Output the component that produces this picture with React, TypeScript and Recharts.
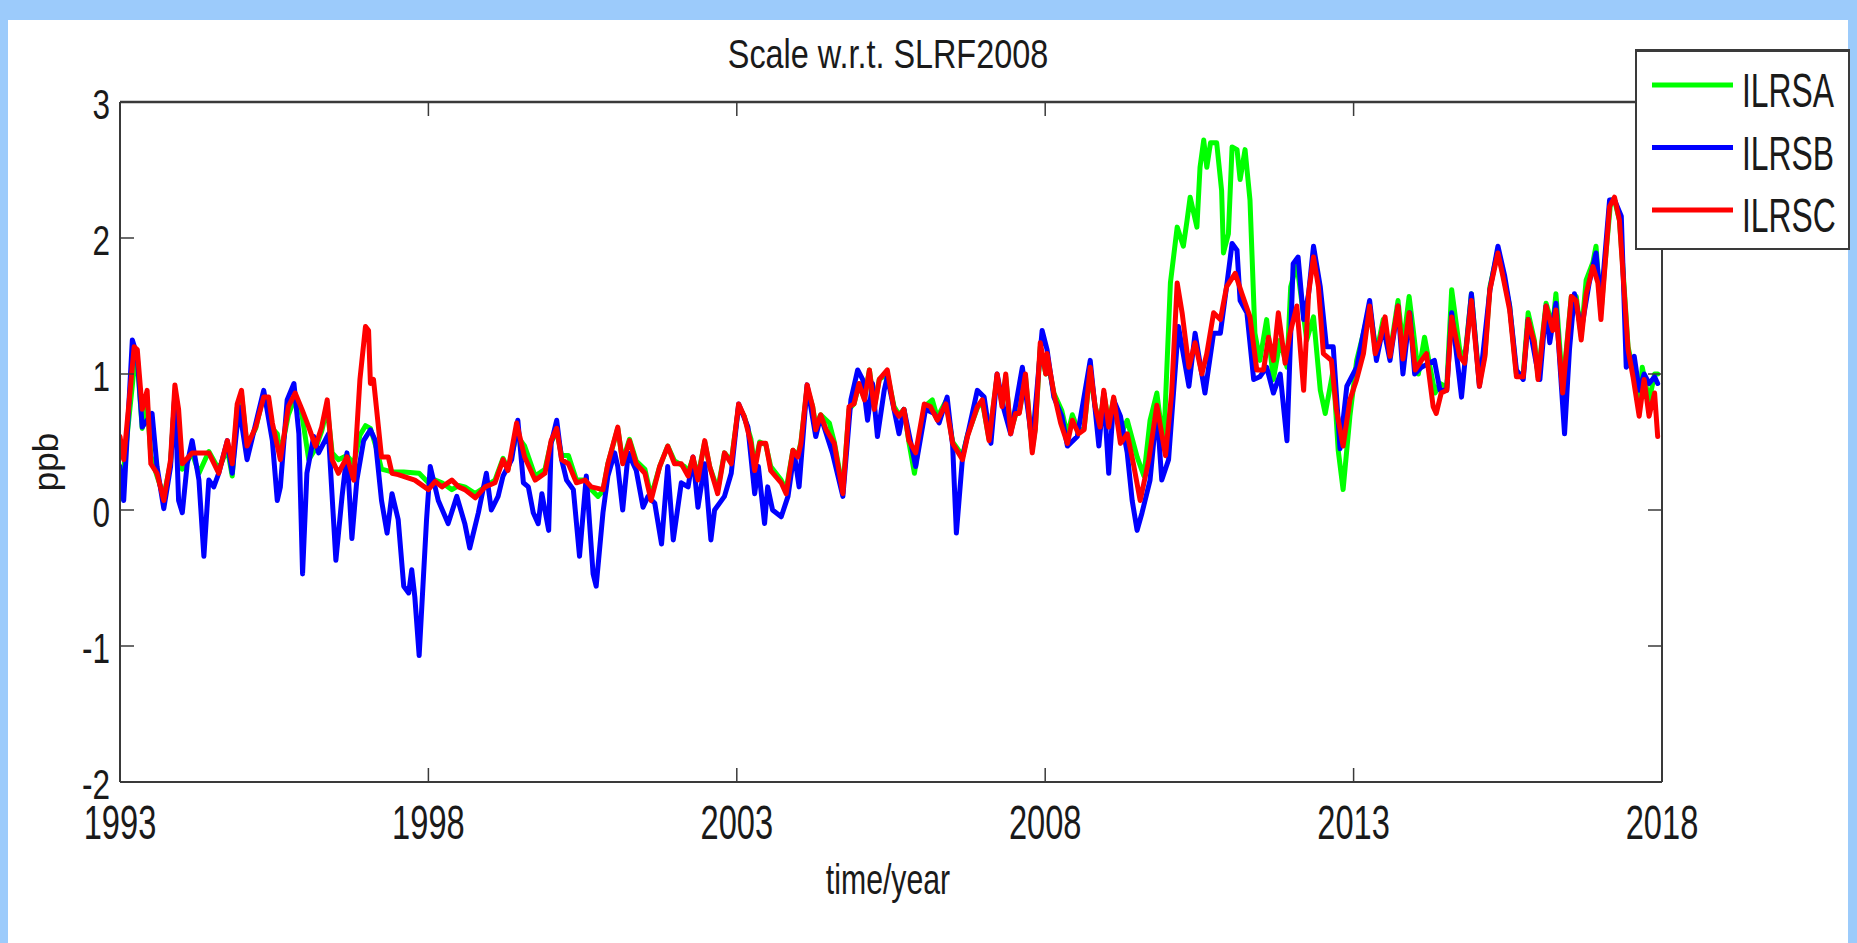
import React from "react";
import { LineChart, Line, XAxis, YAxis, Legend, Label } from "recharts";

// tick values
const yearTicks = [1993, 1998, 2003, 2008, 2013, 2018];
const ppbTicks = [-2, -1, 0, 1, 2, 3];

// [decimal year, scale in ppb]
const ilrsaPoints: [number, number][] = [
  [1993.0, 0.08], [1993.06, 0.3], [1993.23, 1.05], [1993.28, 1.1], [1993.36, 0.6], [1993.44, 0.8], [1993.5, 0.4], [1993.6, 0.25],
  [1993.71, 0.1], [1993.82, 0.35], [1993.89, 0.85], [1993.95, 0.6], [1994.01, 0.3], [1994.17, 0.42], [1994.28, 0.27], [1994.44, 0.43],
  [1994.6, 0.3], [1994.74, 0.45], [1994.82, 0.25], [1994.9, 0.75], [1994.97, 0.85], [1995.06, 0.47], [1995.2, 0.6], [1995.33, 0.85],
  [1995.41, 0.8], [1995.47, 0.6], [1995.55, 0.56], [1995.6, 0.4], [1995.73, 0.7], [1995.84, 0.83], [1995.95, 0.7], [1996.06, 0.37],
  [1996.17, 0.45], [1996.27, 0.58], [1996.36, 0.75], [1996.44, 0.42], [1996.54, 0.37], [1996.68, 0.4], [1996.79, 0.34], [1996.89, 0.55],
  [1996.98, 0.62], [1997.06, 0.6], [1997.16, 0.45], [1997.24, 0.3], [1997.41, 0.28], [1997.6, 0.28], [1997.85, 0.27], [1998.0, 0.2],
  [1998.11, 0.22], [1998.22, 0.2], [1998.38, 0.15], [1998.49, 0.18], [1998.59, 0.17], [1998.76, 0.12], [1998.92, 0.17], [1999.08, 0.22],
  [1999.21, 0.38], [1999.29, 0.3], [1999.43, 0.55], [1999.56, 0.47], [1999.73, 0.25], [1999.89, 0.3], [1999.99, 0.5], [2000.08, 0.58],
  [2000.16, 0.4], [2000.27, 0.4], [2000.4, 0.22], [2000.54, 0.22], [2000.64, 0.15], [2000.75, 0.1], [2000.83, 0.14], [2000.91, 0.34],
  [2001.07, 0.6], [2001.15, 0.36], [2001.26, 0.52], [2001.37, 0.36], [2001.51, 0.3], [2001.61, 0.1], [2001.75, 0.32], [2001.88, 0.47],
  [2001.99, 0.36], [2002.15, 0.32], [2002.21, 0.28], [2002.29, 0.38], [2002.37, 0.25], [2002.48, 0.5], [2002.56, 0.32], [2002.69, 0.15],
  [2002.8, 0.42], [2002.91, 0.36], [2003.03, 0.76], [2003.12, 0.69], [2003.23, 0.52], [2003.29, 0.32], [2003.37, 0.5], [2003.47, 0.48],
  [2003.55, 0.32], [2003.72, 0.22], [2003.8, 0.15], [2003.91, 0.44], [2003.99, 0.4], [2004.04, 0.5], [2004.14, 0.9], [2004.23, 0.76],
  [2004.28, 0.62], [2004.36, 0.7], [2004.5, 0.64], [2004.58, 0.5], [2004.72, 0.15], [2004.82, 0.74], [2004.9, 0.78], [2004.98, 0.92],
  [2005.07, 0.82], [2005.15, 1.03], [2005.23, 0.76], [2005.31, 0.96], [2005.44, 1.0], [2005.55, 0.76], [2005.63, 0.7], [2005.71, 0.74],
  [2005.79, 0.5], [2005.88, 0.27], [2006.04, 0.76], [2006.17, 0.81], [2006.25, 0.68], [2006.39, 0.8], [2006.5, 0.5], [2006.66, 0.4],
  [2006.74, 0.55], [2006.9, 0.75], [2006.98, 0.8], [2007.09, 0.52], [2007.22, 0.98], [2007.3, 0.78], [2007.36, 0.98], [2007.44, 0.58],
  [2007.52, 0.7], [2007.58, 0.72], [2007.68, 0.98], [2007.79, 0.45], [2007.84, 0.6], [2007.92, 1.2], [2008.01, 1.0], [2008.03, 1.12],
  [2008.14, 0.86], [2008.27, 0.73], [2008.36, 0.55], [2008.44, 0.7], [2008.54, 0.58], [2008.63, 0.6], [2008.73, 1.02], [2008.81, 0.76],
  [2008.89, 0.64], [2008.95, 0.86], [2009.03, 0.64], [2009.11, 0.82], [2009.22, 0.55], [2009.33, 0.66], [2009.49, 0.39], [2009.6, 0.25],
  [2009.7, 0.66], [2009.81, 0.86], [2009.92, 0.47], [2010.03, 1.67], [2010.14, 2.08], [2010.24, 1.94], [2010.3, 2.13], [2010.35, 2.3],
  [2010.46, 2.08], [2010.51, 2.52], [2010.57, 2.72], [2010.62, 2.52], [2010.68, 2.7], [2010.78, 2.7], [2010.86, 2.35], [2010.89, 1.89],
  [2010.97, 2.03], [2011.03, 2.67], [2011.11, 2.65], [2011.16, 2.43], [2011.24, 2.65], [2011.32, 2.28], [2011.4, 1.3], [2011.48, 1.1],
  [2011.59, 1.4], [2011.7, 0.96], [2011.81, 1.25], [2011.92, 1.05], [2011.98, 1.64], [2012.08, 1.81], [2012.24, 1.25], [2012.35, 1.42],
  [2012.46, 0.88], [2012.54, 0.71], [2012.67, 1.03], [2012.75, 0.44], [2012.83, 0.15], [2012.94, 0.69], [2013.05, 1.1], [2013.16, 1.3],
  [2013.26, 1.5], [2013.37, 1.15], [2013.48, 1.4], [2013.59, 1.15], [2013.72, 1.54], [2013.8, 1.2], [2013.9, 1.57], [2013.96, 1.35],
  [2014.05, 1.0], [2014.15, 1.27], [2014.24, 1.05], [2014.32, 0.86], [2014.4, 0.93], [2014.48, 0.91], [2014.51, 0.9], [2014.59, 1.62],
  [2014.72, 1.18], [2014.8, 1.1], [2014.91, 1.59], [2015.04, 0.93], [2015.13, 1.15], [2015.21, 1.64], [2015.34, 1.91], [2015.42, 1.74],
  [2015.53, 1.5], [2015.64, 1.0], [2015.75, 1.0], [2015.83, 1.45], [2015.93, 1.25], [2015.99, 0.98], [2016.12, 1.52], [2016.23, 1.35],
  [2016.28, 1.59], [2016.39, 0.9], [2016.53, 1.57], [2016.61, 1.57], [2016.69, 1.28], [2016.77, 1.69], [2016.88, 1.82], [2016.93, 1.94],
  [2017.01, 1.45], [2017.07, 1.78], [2017.17, 2.28], [2017.23, 2.28], [2017.31, 2.13], [2017.36, 1.82], [2017.45, 1.2], [2017.53, 1.03],
  [2017.63, 0.75], [2017.68, 1.05], [2017.79, 0.8], [2017.88, 1.0], [2017.93, 1.0],
];

const ilrsbPoints: [number, number][] = [
  [1993.0, 0.32], [1993.06, 0.07], [1993.2, 1.25], [1993.28, 1.13], [1993.36, 0.61], [1993.52, 0.71], [1993.6, 0.32], [1993.71, 0.01],
  [1993.82, 0.32], [1993.89, 0.86], [1993.95, 0.07], [1994.01, -0.02], [1994.09, 0.34], [1994.17, 0.51], [1994.28, 0.22], [1994.36, -0.34],
  [1994.44, 0.22], [1994.52, 0.17], [1994.6, 0.27], [1994.74, 0.51], [1994.82, 0.27], [1994.93, 0.76], [1995.06, 0.37], [1995.33, 0.88],
  [1995.47, 0.51], [1995.55, 0.07], [1995.6, 0.17], [1995.71, 0.81], [1995.82, 0.93], [1995.9, 0.56], [1995.96, -0.47], [1996.03, 0.27],
  [1996.14, 0.54], [1996.22, 0.42], [1996.38, 0.56], [1996.5, -0.37], [1996.6, 0.1], [1996.68, 0.42], [1996.76, -0.21], [1996.84, 0.22],
  [1996.95, 0.51], [1997.06, 0.59], [1997.14, 0.51], [1997.24, 0.07], [1997.33, -0.17], [1997.41, 0.12], [1997.51, -0.07], [1997.6, -0.56],
  [1997.68, -0.61], [1997.73, -0.44], [1997.78, -0.64], [1997.85, -1.07], [1997.97, -0.07], [1998.03, 0.32], [1998.16, 0.07], [1998.32, -0.1],
  [1998.46, 0.1], [1998.59, -0.1], [1998.67, -0.28], [1998.81, -0.02], [1998.94, 0.27], [1999.02, 0.0], [1999.13, 0.1], [1999.21, 0.25],
  [1999.35, 0.37], [1999.45, 0.66], [1999.54, 0.2], [1999.62, 0.17], [1999.7, -0.02], [1999.78, -0.1], [1999.84, 0.12], [1999.95, -0.15],
  [1999.99, 0.49], [2000.08, 0.66], [2000.16, 0.37], [2000.24, 0.22], [2000.35, 0.15], [2000.45, -0.34], [2000.56, 0.25], [2000.67, -0.47],
  [2000.72, -0.56], [2000.83, -0.02], [2000.91, 0.25], [2001.02, 0.42], [2001.07, 0.32], [2001.15, 0.0], [2001.24, 0.42], [2001.37, 0.29],
  [2001.48, 0.02], [2001.56, 0.1], [2001.67, 0.05], [2001.78, -0.25], [2001.88, 0.32], [2001.97, -0.22], [2002.1, 0.2], [2002.21, 0.17],
  [2002.29, 0.39], [2002.37, 0.02], [2002.48, 0.34], [2002.58, -0.22], [2002.64, 0.0], [2002.8, 0.1], [2002.91, 0.27], [2003.03, 0.78],
  [2003.18, 0.61], [2003.29, 0.12], [2003.35, 0.32], [2003.45, -0.1], [2003.5, 0.17], [2003.58, 0.0], [2003.72, -0.05], [2003.83, 0.1],
  [2003.93, 0.42], [2004.01, 0.17], [2004.14, 0.92], [2004.28, 0.54], [2004.36, 0.69], [2004.55, 0.42], [2004.72, 0.1], [2004.85, 0.81],
  [2004.96, 1.03], [2005.04, 0.96], [2005.12, 0.66], [2005.2, 0.93], [2005.28, 0.54], [2005.39, 0.88], [2005.44, 0.98], [2005.63, 0.56],
  [2005.71, 0.74], [2005.9, 0.32], [2006.06, 0.74], [2006.2, 0.71], [2006.28, 0.64], [2006.41, 0.83], [2006.5, 0.47], [2006.56, -0.17],
  [2006.66, 0.39], [2006.76, 0.59], [2006.9, 0.88], [2007.01, 0.83], [2007.12, 0.49], [2007.22, 1.0], [2007.33, 0.74], [2007.44, 0.56],
  [2007.63, 1.05], [2007.79, 0.49], [2007.95, 1.32], [2008.03, 1.18], [2008.14, 0.83], [2008.27, 0.69], [2008.36, 0.47], [2008.52, 0.54],
  [2008.73, 1.1], [2008.87, 0.47], [2008.95, 0.86], [2009.03, 0.27], [2009.11, 0.81], [2009.22, 0.69], [2009.33, 0.42], [2009.41, 0.07],
  [2009.49, -0.15], [2009.57, -0.02], [2009.7, 0.22], [2009.81, 0.74], [2009.89, 0.22], [2010.0, 0.37], [2010.16, 1.35], [2010.33, 0.91],
  [2010.43, 1.3], [2010.59, 0.86], [2010.73, 1.3], [2010.84, 1.3], [2010.94, 1.64], [2011.03, 1.96], [2011.11, 1.91], [2011.16, 1.54],
  [2011.27, 1.45], [2011.38, 0.96], [2011.48, 0.98], [2011.59, 1.05], [2011.7, 0.86], [2011.81, 1.0], [2011.92, 0.51], [2012.02, 1.81],
  [2012.1, 1.86], [2012.19, 1.4], [2012.27, 1.59], [2012.35, 1.94], [2012.46, 1.64], [2012.56, 1.2], [2012.67, 1.2], [2012.78, 0.45],
  [2012.89, 0.91], [2013.05, 1.05], [2013.26, 1.54], [2013.37, 1.1], [2013.48, 1.35], [2013.59, 1.1], [2013.72, 1.5], [2013.8, 1.0],
  [2013.91, 1.45], [2013.99, 1.0], [2014.1, 1.05], [2014.31, 1.1], [2014.4, 0.88], [2014.48, 0.88], [2014.51, 0.88], [2014.59, 1.45],
  [2014.75, 0.83], [2014.91, 1.59], [2015.04, 0.91], [2015.21, 1.62], [2015.34, 1.94], [2015.45, 1.72], [2015.53, 1.5], [2015.64, 1.03],
  [2015.75, 0.96], [2015.83, 1.4], [2015.96, 1.08], [2016.02, 0.96], [2016.12, 1.5], [2016.18, 1.23], [2016.28, 1.52], [2016.42, 0.56],
  [2016.5, 1.18], [2016.58, 1.59], [2016.69, 1.32], [2016.82, 1.67], [2016.93, 1.89], [2017.01, 1.52], [2017.15, 2.28], [2017.23, 2.28],
  [2017.34, 2.16], [2017.42, 1.05], [2017.55, 1.13], [2017.63, 0.88], [2017.71, 1.0], [2017.79, 0.93], [2017.88, 0.98], [2017.93, 0.93],
];

const ilrscPoints: [number, number][] = [
  [1993.0, 0.54], [1993.06, 0.37], [1993.23, 1.2], [1993.28, 1.18], [1993.36, 0.74], [1993.44, 0.88], [1993.5, 0.34], [1993.6, 0.27],
  [1993.71, 0.07], [1993.82, 0.37], [1993.89, 0.92], [1993.95, 0.74], [1994.01, 0.34], [1994.17, 0.42], [1994.44, 0.42], [1994.6, 0.27],
  [1994.74, 0.51], [1994.82, 0.34], [1994.9, 0.78], [1994.97, 0.88], [1995.06, 0.47], [1995.2, 0.61], [1995.33, 0.83], [1995.41, 0.83],
  [1995.47, 0.64], [1995.6, 0.37], [1995.73, 0.76], [1995.84, 0.86], [1995.95, 0.74], [1996.06, 0.61], [1996.17, 0.47], [1996.27, 0.61],
  [1996.36, 0.81], [1996.44, 0.37], [1996.54, 0.27], [1996.68, 0.39], [1996.79, 0.22], [1996.89, 0.96], [1996.98, 1.35], [1997.03, 1.32],
  [1997.06, 0.93], [1997.11, 0.96], [1997.16, 0.74], [1997.24, 0.39], [1997.35, 0.39], [1997.41, 0.27], [1997.51, 0.26], [1997.78, 0.22],
  [1998.0, 0.15], [1998.11, 0.21], [1998.22, 0.17], [1998.38, 0.22], [1998.49, 0.17], [1998.59, 0.15], [1998.76, 0.09], [1998.92, 0.17],
  [1999.08, 0.2], [1999.21, 0.37], [1999.29, 0.29], [1999.43, 0.64], [1999.56, 0.39], [1999.73, 0.22], [1999.89, 0.27], [1999.99, 0.51],
  [2000.08, 0.6], [2000.16, 0.37], [2000.27, 0.34], [2000.4, 0.2], [2000.54, 0.22], [2000.64, 0.17], [2000.83, 0.15], [2000.91, 0.34],
  [2001.07, 0.61], [2001.15, 0.34], [2001.26, 0.51], [2001.37, 0.34], [2001.51, 0.27], [2001.61, 0.07], [2001.75, 0.32], [2001.88, 0.47],
  [2001.99, 0.34], [2002.1, 0.34], [2002.21, 0.25], [2002.29, 0.39], [2002.37, 0.22], [2002.48, 0.51], [2002.56, 0.32], [2002.69, 0.12],
  [2002.8, 0.42], [2002.91, 0.34], [2003.03, 0.78], [2003.12, 0.69], [2003.23, 0.49], [2003.29, 0.29], [2003.37, 0.49], [2003.47, 0.49],
  [2003.55, 0.29], [2003.72, 0.2], [2003.8, 0.12], [2003.91, 0.44], [2003.99, 0.39], [2004.04, 0.49], [2004.14, 0.92], [2004.23, 0.76],
  [2004.28, 0.59], [2004.36, 0.7], [2004.45, 0.59], [2004.58, 0.49], [2004.72, 0.12], [2004.82, 0.76], [2004.9, 0.78], [2004.98, 0.93],
  [2005.07, 0.81], [2005.15, 1.03], [2005.23, 0.74], [2005.31, 0.96], [2005.44, 1.03], [2005.55, 0.74], [2005.63, 0.69], [2005.71, 0.74],
  [2005.79, 0.51], [2005.9, 0.42], [2006.04, 0.78], [2006.14, 0.76], [2006.25, 0.66], [2006.39, 0.78], [2006.5, 0.49], [2006.66, 0.37],
  [2006.74, 0.54], [2006.9, 0.76], [2006.98, 0.81], [2007.09, 0.51], [2007.22, 1.0], [2007.3, 0.76], [2007.36, 1.0], [2007.44, 0.56],
  [2007.52, 0.71], [2007.58, 0.71], [2007.68, 1.0], [2007.79, 0.42], [2007.84, 0.59], [2007.92, 1.23], [2008.01, 1.0], [2008.03, 1.15],
  [2008.14, 0.86], [2008.25, 0.64], [2008.36, 0.49], [2008.44, 0.66], [2008.54, 0.56], [2008.63, 0.59], [2008.73, 1.05], [2008.81, 0.76],
  [2008.89, 0.61], [2008.95, 0.88], [2009.03, 0.61], [2009.11, 0.83], [2009.22, 0.49], [2009.33, 0.56], [2009.43, 0.34], [2009.54, 0.07],
  [2009.68, 0.37], [2009.81, 0.77], [2009.95, 0.4], [2010.05, 0.86], [2010.14, 1.67], [2010.22, 1.45], [2010.33, 1.05], [2010.43, 1.23],
  [2010.54, 1.0], [2010.62, 1.15], [2010.73, 1.45], [2010.84, 1.4], [2010.94, 1.64], [2011.08, 1.74], [2011.19, 1.59], [2011.32, 1.42],
  [2011.43, 1.03], [2011.54, 1.03], [2011.62, 1.27], [2011.7, 1.1], [2011.78, 1.45], [2011.89, 1.08], [2011.97, 1.3], [2012.08, 1.5],
  [2012.19, 0.88], [2012.27, 1.59], [2012.35, 1.86], [2012.43, 1.64], [2012.51, 1.15], [2012.64, 1.1], [2012.72, 0.74], [2012.83, 0.47],
  [2012.94, 0.81], [2013.05, 0.96], [2013.16, 1.15], [2013.26, 1.5], [2013.35, 1.15], [2013.43, 1.25], [2013.51, 1.42], [2013.59, 1.13],
  [2013.72, 1.5], [2013.8, 1.11], [2013.9, 1.45], [2014.0, 1.03], [2014.1, 1.1], [2014.18, 1.15], [2014.29, 0.76], [2014.34, 0.71],
  [2014.42, 0.86], [2014.51, 0.88], [2014.59, 1.42], [2014.72, 1.13], [2014.8, 1.08], [2014.91, 1.54], [2015.04, 0.91], [2015.13, 1.13],
  [2015.21, 1.62], [2015.34, 1.89], [2015.42, 1.72], [2015.53, 1.47], [2015.64, 0.98], [2015.75, 0.98], [2015.83, 1.4], [2015.93, 1.23],
  [2015.99, 0.96], [2016.12, 1.5], [2016.23, 1.32], [2016.28, 1.47], [2016.39, 0.86], [2016.53, 1.57], [2016.61, 1.54], [2016.69, 1.25],
  [2016.77, 1.59], [2016.88, 1.79], [2016.96, 1.67], [2017.01, 1.4], [2017.07, 1.76], [2017.15, 2.23], [2017.23, 2.3], [2017.31, 2.13],
  [2017.36, 1.79], [2017.45, 1.18], [2017.53, 0.98], [2017.63, 0.69], [2017.71, 0.96], [2017.79, 0.69], [2017.88, 0.86], [2017.93, 0.54],
];

const seriesNames = ["ILRSA", "ILRSB", "ILRSC"];
const seriesColors = ["#00ff00", "#0000ff", "#ff0000"];
const seriesPoints = [ilrsaPoints, ilrsbPoints, ilrscPoints];

const FONT = "'Liberation Sans', Arial, Helvetica, sans-serif";
const INK = "#1a1a1a";
const FRAME = "#3a3a3a";

const series = seriesNames.map((name, i) => ({
  name,
  color: seriesColors[i],
  data: seriesPoints[i].map(([year, ppb]) => ({ year, ppb })),
}));

// the figure is squeezed horizontally, so text is drawn narrow
function NarrowText({ x, y, size, squeeze, anchor = "middle", children }: any) {
  return (
    <text
      transform={`translate(${x},${y}) scale(${squeeze},1)`}
      textAnchor={anchor}
      fontSize={size}
      fontFamily={FONT}
      fill={INK}
    >
      {children}
    </text>
  );
}

function BottomTick({ x, y, payload }: any) {
  return (
    <g>
      <line x1={x} y1={y} x2={x} y2={y - 14} stroke={FRAME} strokeWidth={1.5} />
      <NarrowText x={x} y={y + 57} size={48} squeeze={0.68}>
        {payload.value}
      </NarrowText>
    </g>
  );
}

function TopTick({ x, y }: any) {
  return <line x1={x} y1={y} x2={x} y2={y + 14} stroke={FRAME} strokeWidth={1.5} />;
}

function LeftTick({ x, y, payload }: any) {
  return (
    <g>
      <line x1={x} y1={y} x2={x + 14} y2={y} stroke={FRAME} strokeWidth={1.5} />
      <NarrowText x={x - 10} y={y + 17} size={42} squeeze={0.75} anchor="end">
        {payload.value}
      </NarrowText>
    </g>
  );
}

function RightTick({ x, y }: any) {
  return <line x1={x} y1={y} x2={x - 14} y2={y} stroke={FRAME} strokeWidth={1.5} />;
}

function LegendBox() {
  return (
    <div
      style={{
        width: 215,
        height: 201,
        boxSizing: "border-box",
        border: `2px solid ${FRAME}`,
        borderTopWidth: 3,
        background: "#fff",
      }}
    >
      <svg width={211} height={196} style={{ display: "block" }}>
        {series.map((s, i) => (
          <g key={s.name}>
            <line x1={15} x2={96} y1={33 + i * 62.5} y2={33 + i * 62.5} stroke={s.color} strokeWidth={5} />
            <NarrowText x={105} y={55 + i * 62.5} size={49} squeeze={0.65} anchor="start">
              {s.name}
            </NarrowText>
          </g>
        ))}
      </svg>
    </div>
  );
}

export default function App() {
  return (
    <div style={{ position: "absolute", left: 0, top: 0, width: 1857, height: 943, background: "#9ccbfb", overflow: "hidden" }}>
      <div style={{ position: "absolute", left: 8, top: 20, width: 1840, height: 923, background: "#fff" }} />
      <div style={{ position: "absolute", left: 0, top: 0 }}>
        <LineChart width={1857} height={943} margin={{ top: 92, right: 185, bottom: 101, left: 60 }}>
          <XAxis
            dataKey="year"
            type="number"
            domain={[1993, 2018]}
            ticks={yearTicks}
            allowDataOverflow
            height={60}
            tickSize={0}
            tickMargin={0}
            tickLine={false}
            axisLine={{ stroke: FRAME, strokeWidth: 2 }}
            tick={(p: any) => <BottomTick {...p} />}
          >
            <Label
              content={({ viewBox }: any) => (
                <NarrowText x={viewBox.x + viewBox.width / 2 - 3} y={viewBox.y + 112} size={42} squeeze={0.72}>
                  time/year
                </NarrowText>
              )}
            />
          </XAxis>
          <XAxis
            xAxisId="top"
            orientation="top"
            dataKey="year"
            type="number"
            domain={[1993, 2018]}
            ticks={yearTicks}
            allowDataOverflow
            height={10}
            tickSize={0}
            tickMargin={0}
            tickLine={false}
            axisLine={{ stroke: FRAME, strokeWidth: 2.5 }}
            tick={(p: any) => <TopTick {...p} />}
          >
            <Label
              content={({ viewBox }: any) => (
                <NarrowText x={viewBox.x + viewBox.width / 2 - 3} y={viewBox.y - 24} size={41} squeeze={0.79}>
                  Scale w.r.t. SLRF2008
                </NarrowText>
              )}
            />
          </XAxis>
          <YAxis
            type="number"
            domain={[-2, 3]}
            ticks={ppbTicks}
            allowDataOverflow
            width={60}
            tickSize={0}
            tickMargin={0}
            tickLine={false}
            axisLine={{ stroke: FRAME, strokeWidth: 2 }}
            tick={(p: any) => <LeftTick {...p} />}
          >
            <Label
              content={({ viewBox }: any) => (
                <text
                  transform={`translate(${viewBox.x - 2},${viewBox.y + viewBox.height / 2 + 20}) rotate(-90)`}
                  textAnchor="middle"
                  fontSize={35}
                  fontFamily={FONT}
                  fill={INK}
                >
                  ppb
                </text>
              )}
            />
          </YAxis>
          <YAxis
            yAxisId="right"
            orientation="right"
            type="number"
            domain={[-2, 3]}
            ticks={ppbTicks}
            allowDataOverflow
            width={10}
            tickSize={0}
            tickMargin={0}
            tickLine={false}
            axisLine={{ stroke: FRAME, strokeWidth: 2 }}
            tick={(p: any) => <RightTick {...p} />}
          />
          <Legend
            layout="vertical"
            align="center"
            verticalAlign="middle"
            wrapperStyle={{ position: "absolute", left: 1635, top: 49, width: 215, height: 201 }}
            content={() => <LegendBox />}
          />
          {series.map((s) => (
            <Line
              key={s.name}
              name={s.name}
              data={s.data}
              dataKey="ppb"
              type="linear"
              stroke={s.color}
              strokeWidth={5}
              strokeLinejoin="round"
              strokeLinecap="round"
              dot={false}
              isAnimationActive={false}
            />
          ))}
        </LineChart>
      </div>
    </div>
  );
}
